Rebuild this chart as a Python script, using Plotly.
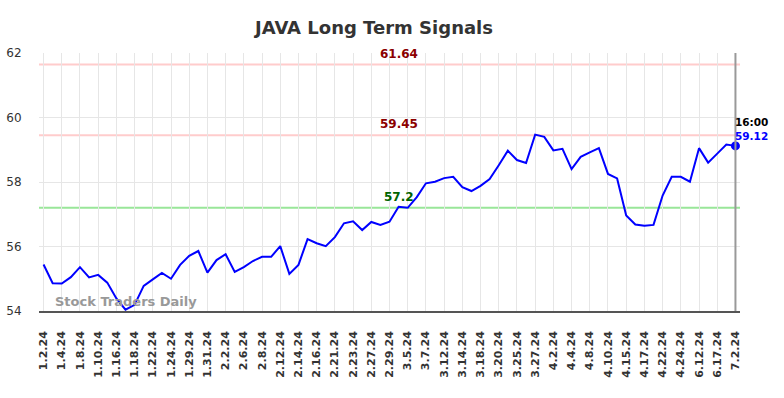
import plotly.graph_objects as go

dates = ["1.2.24","1.3.24","1.4.24","1.5.24","1.8.24","1.9.24","1.10.24","1.12.24",
         "1.16.24","1.17.24","1.18.24","1.19.24","1.22.24","1.23.24","1.24.24","1.26.24",
         "1.29.24","1.30.24","1.31.24","2.1.24","2.2.24","2.5.24","2.6.24","2.7.24",
         "2.8.24","2.9.24","2.12.24","2.13.24","2.14.24","2.15.24","2.16.24","2.20.24",
         "2.21.24","2.22.24","2.23.24","2.26.24","2.27.24","2.28.24","2.29.24","3.1.24",
         "3.5.24","3.6.24","3.7.24","3.8.24","3.12.24","3.13.24","3.14.24","3.15.24",
         "3.18.24","3.19.24","3.20.24","3.21.24","3.25.24","3.26.24","3.27.24","3.28.24",
         "4.2.24","4.3.24","4.4.24","4.5.24","4.8.24","4.9.24","4.10.24","4.11.24",
         "4.15.24","4.16.24","4.17.24","4.18.24","4.22.24","4.23.24","4.24.24","5.15.24",
         "6.12.24","6.14.24","6.17.24","6.24.24","7.2.24"]

prices = [55.44,54.86,54.85,55.05,55.36,55.04,55.12,54.88,54.39,54.04,
          54.19,54.78,54.98,55.18,55.00,55.43,55.71,55.86,55.19,55.58,
          55.76,55.21,55.36,55.55,55.68,55.68,56.01,55.15,55.43,56.23,
          56.10,56.01,56.29,56.72,56.78,56.51,56.76,56.67,56.77,57.23,
          57.20,57.53,57.96,58.01,58.12,58.16,57.84,57.72,57.88,58.09,
          58.52,58.97,58.68,58.59,59.47,59.40,58.98,59.03,58.40,58.78,
          58.92,59.05,58.25,58.11,56.96,56.68,56.64,56.67,57.58,58.16,
          58.16,58.01,59.05,58.60,58.88,59.16,59.12]

signal_levels = [61.64, 59.45, 57.2]
signal_colors = ["#ffcccc", "#ffcccc", "#99e699"]
signal_text_colors = ["#8b0000", "#8b0000", "#006400"]
y_ticks = [54, 56, 58, 60, 62]
last_time = "16:00"

n = len(prices)
xs = list(range(n))
tick_idx = xs[::2]

fig = go.Figure()
fig.add_trace(go.Scatter(x=xs, y=prices, mode="lines",
                         line=dict(color="#0000ff", width=2), hoverinfo="skip"))
fig.add_trace(go.Scatter(x=[xs[-1]], y=[prices[-1]], mode="markers",
                         marker=dict(color="#0000ff", size=9, line=dict(width=0)), hoverinfo="skip"))

shapes = []
annotations = []
for lvl, c, tc in zip(signal_levels, signal_colors, signal_text_colors):
    shapes.append(dict(type="line", xref="paper", x0=0, x1=1, yref="y", y0=lvl, y1=lvl,
                       line=dict(color=c, width=2), layer="below"))
    annotations.append(dict(x=0.514, xref="paper", y=lvl, yref="y", text="<b>%g</b>" % lvl,
                            showarrow=False, yanchor="bottom", yshift=2,
                            font=dict(family="DejaVu Sans", size=12, color=tc)))
shapes.append(dict(type="line", xref="x", x0=xs[-1], x1=xs[-1], yref="paper", y0=0, y1=1,
                   line=dict(color="#999999", width=2)))

annotations.append(dict(x=xs[-1], xref="x", y=prices[-1], yref="y", text="<b>%s</b>" % last_time,
                        showarrow=False, xanchor="left", yanchor="middle", xshift=-2, yshift=24,
                        font=dict(family="DejaVu Sans", size=10.5, color="#000000")))
annotations.append(dict(x=xs[-1], xref="x", y=prices[-1], yref="y", text="<b>%.2f</b>" % prices[-1],
                        showarrow=False, xanchor="left", yanchor="middle", xshift=-2, yshift=10,
                        font=dict(family="DejaVu Sans", size=10.5, color="#0000ff")))
annotations.append(dict(x=0.0204, xref="paper", y=0.035, yref="paper", text="<b>Stock Traders Daily</b>",
                        showarrow=False, xanchor="left", yanchor="middle",
                        font=dict(family="DejaVu Sans", size=13, color="#999999")))

fig.update_layout(
    width=784, height=398,
    margin=dict(l=39, r=44, t=53, b=87),
    paper_bgcolor="white", plot_bgcolor="white",
    showlegend=False,
    title=dict(text="<b>JAVA Long Term Signals</b>", x=374/784, xref="container", xanchor="center",
               y=1 - 27.5/398, yref="container", yanchor="middle",
               font=dict(family="DejaVu Sans", size=18, color="#333333")),
    shapes=shapes, annotations=annotations,
    xaxis=dict(range=[-0.5, n - 0.5], tickvals=tick_idx, ticktext=[dates[i] for i in tick_idx],
               tickangle=-90, showgrid=True, gridcolor="#e6e6e6", gridwidth=1,
               ticks="outside", ticklen=14, tickcolor="rgba(0,0,0,0)", automargin=False,
               tickfont=dict(family="DejaVu Sans", size=11, color="#333333", weight="bold"),
               showline=True, linecolor="#555555", linewidth=1.5, zeroline=False),
    yaxis=dict(range=[54, 62], tickvals=y_ticks, showgrid=True, gridcolor="#e6e6e6", gridwidth=1,
               ticks="outside", ticklen=14, tickcolor="rgba(0,0,0,0)", automargin=False,
               tickfont=dict(family="DejaVu Sans", size=12, color="#333333"),
               showline=False, zeroline=False),
)

fig.write_html("out.html", config={"displayModeBar": False},
               post_script="document.body.style.margin='0';")
